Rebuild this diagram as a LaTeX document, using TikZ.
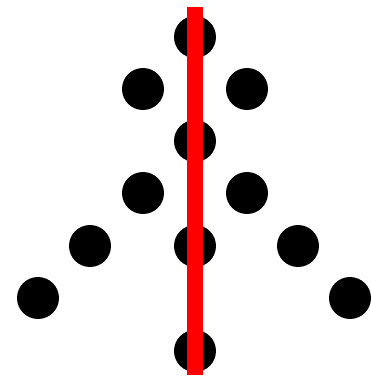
\documentclass[tikz,border=0pt]{standalone}
\usepackage{tikz}

\begin{document}
\begin{tikzpicture}[x=0.02cm, y=-0.02cm,
  dot/.style={circle, fill=black, inner sep=0pt, minimum size=0.84cm},
  axis/.style={draw=red, line width=0.34cm}]
\useasboundingbox (0,0) rectangle (370,380);
\node[dot] (apex) at (195,37) {};
\node[dot] (ul) at (143,89) {};
\node[dot] (ur) at (247,89) {};
\node[dot] (mid) at (195,141) {};
\node[dot] (ml) at (143,193) {};
\node[dot] (mr) at (247,193) {};
\node[dot] (ll) at (90,246) {};
\node[dot] (lc) at (195,246) {};
\node[dot] (lr) at (298,246) {};
\node[dot] (fl) at (38,298) {};
\node[dot] (fr) at (350,298) {};
\node[dot] (base) at (195,351) {};
\coordinate (top) at (195,7);
\coordinate (bottom) at (195,375);
\draw[axis] (top) -- (bottom);
\end{tikzpicture}
\end{document}
